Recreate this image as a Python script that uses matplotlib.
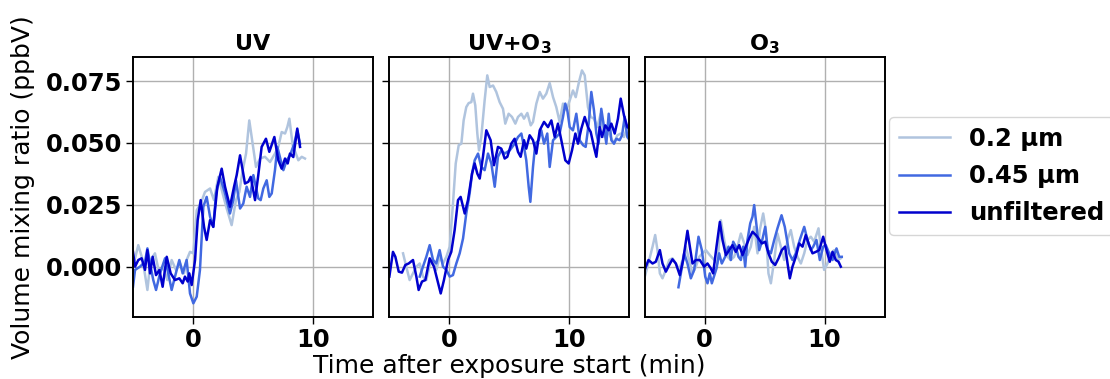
import matplotlib
matplotlib.use("Agg")
import matplotlib.pyplot as plt

# ---------------------------------------------------------------- data
panel_titles = ["UV", "UV+O$_3$", "O$_3$"]
series_labels = ["0.2 µm", "0.45 µm", "unfiltered"]
series_colors = ["lightsteelblue", "royalblue", "mediumblue"]
x_ticks = [0, 10]
y_ticks = [0.0, 0.025, 0.05, 0.075]

# UV exposure
uv_t_02 = [-5.0, -4.56, -4.19, -3.8, -3.53, -3.17, -2.81, -2.47, -2.14, -1.78, -1.42, -1.08, -0.75,
           -0.53, -0.25, 0.03, 0.31, 0.64, 1.0, 1.42, 1.75, 2.11, 2.47, 2.81, 3.22, 3.58, 3.86, 4.14,
           4.42, 4.69, 4.97, 5.25, 5.58, 6.0, 6.42, 6.83, 7.11, 7.39, 7.67, 7.86, 8.03, 8.31, 8.78,
           9.06, 9.33]
uv_v_02 = [0.0, 0.0087, 0.0027, -0.0094, 0.0027, 0.0054, -0.0027, 0.0, -0.0054, 0.0027, -0.0013,
           0.0013, -0.0027, 0.0027, 0.0060, 0.0054, 0.0228, 0.0255, 0.0302, 0.0316, 0.0269, 0.0363,
           0.0296, 0.0235, 0.0168, 0.0269, 0.0302, 0.0390, 0.0457, 0.0591, 0.0497, 0.0403, 0.0437,
           0.0444, 0.0423, 0.0457, 0.0484, 0.0544, 0.0538, 0.0564, 0.0598, 0.0491, 0.0430, 0.0444,
           0.0437]
uv_t_045 = [-5.0, -4.83, -4.42, -4.0, -3.8, -3.53, -3.31, -3.08, -2.75, -2.33, -2.06, -1.78, -1.5,
            -1.14, -0.86, -0.53, -0.25, 0.03, 0.31, 0.58, 0.86, 1.14, 1.42, 1.69, 1.92, 2.25, 2.67,
            3.08, 3.36, 3.58, 3.92, 4.19, 4.47, 4.75, 5.03, 5.44, 5.64, 5.86, 6.14, 6.36, 6.56, 6.83,
            7.03, 7.31, 7.53, 7.81, 8.08, 8.44, 8.69, 8.92]
uv_v_045 = [-0.0081, -0.0013, 0.0, 0.0020, 0.0074, 0.0, -0.0054, -0.0094, -0.0027, 0.0034, -0.0027,
            -0.0094, -0.0040, 0.0027, -0.0027, 0.0027, -0.0108, -0.0148, -0.0121, -0.0013, 0.0242,
            0.0282, 0.0202, 0.0161, 0.0296, 0.0363, 0.0296, 0.0215, 0.0269, 0.0349, 0.0235, 0.0255,
            0.0323, 0.0282, 0.0370, 0.0276, 0.0269, 0.0316, 0.0349, 0.0282, 0.0296, 0.0390, 0.0484,
            0.0430, 0.0390, 0.0430, 0.0450, 0.0497, 0.0551, 0.0497]
uv_t_unf = [-5.0, -4.83, -4.56, -4.28, -4.0, -3.8, -3.58, -3.36, -3.08, -2.8, -2.53, -2.19, -1.86,
            -1.5, -1.14, -0.86, -0.67, -0.44, -0.31, -0.11, 0.17, 0.39, 0.64, 0.92, 1.14, 1.42, 1.69,
            2.03, 2.39, 2.67, 3.08, 3.42, 3.64, 3.92, 4.14, 4.33, 4.61, 4.81, 5.17, 5.44, 5.72, 6.08,
            6.36, 6.78, 7.11, 7.39, 7.67, 7.89, 8.08, 8.36, 8.69, 8.92]
uv_v_unf = [0.0060, 0.0, 0.0027, 0.0034, -0.0013, 0.0067, -0.0027, 0.0040, -0.0034, -0.0013, -0.0081,
            0.0040, -0.0027, -0.0054, -0.0047, -0.0067, -0.0040, -0.0060, -0.0027, -0.0074, 0.0027,
            0.0188, 0.0269, 0.0161, 0.0108, 0.0188, 0.0161, 0.0323, 0.0396, 0.0323, 0.0242, 0.0323,
            0.0370, 0.0450, 0.0390, 0.0336, 0.0343, 0.0363, 0.0269, 0.0370, 0.0484, 0.0517, 0.0464,
            0.0524, 0.0430, 0.0396, 0.0437, 0.0417, 0.0457, 0.0443, 0.0558, 0.0484]

# UV + O3 exposure
uvo3_t_02 = [-3.83, -3.56, -3.28, -3.0, -2.72, -2.44, -2.17, -1.89, -1.61, -1.33, -1.06, -0.78, -0.5,
             -0.22, 0.06, 0.33, 0.56, 0.81, 1.03, 1.22, 1.44, 1.64, 1.86, 2.0, 2.19, 2.36, 2.5, 2.69,
             2.97, 3.19, 3.39, 3.67, 3.94, 4.22, 4.5, 4.69, 4.97, 5.25, 5.53, 5.75, 6.03, 6.25, 6.53,
             6.81, 7.0, 7.28, 7.56, 7.83, 8.11, 8.39, 8.67, 8.94, 9.22, 9.5, 9.78, 10.06, 10.33,
             10.56, 10.83, 11.08, 11.31, 11.58, 11.81, 12.08, 12.36, 12.64, 12.92, 13.19, 13.47,
             13.75, 14.03, 14.31, 14.58, 14.86, 15.06]
uvo3_v_02 = [0.0054, 0.0, -0.0054, -0.0027, 0.0, 0.0013, -0.0040, -0.0054, 0.0007, 0.0027, -0.0013,
             0.0040, 0.0013, 0.0040, 0.0081, 0.0255, 0.0417, 0.0491, 0.0497, 0.0591, 0.0645, 0.0661,
             0.0665, 0.0699, 0.0652, 0.0538, 0.0470, 0.0524, 0.0672, 0.0773, 0.0726, 0.0732, 0.0706,
             0.0665, 0.0638, 0.0578, 0.0618, 0.0605, 0.0578, 0.0605, 0.0618, 0.0598, 0.0621, 0.0571,
             0.0585, 0.0659, 0.0706, 0.0679, 0.0699, 0.0742, 0.0685, 0.0645, 0.0585, 0.0659, 0.0632,
             0.0672, 0.0712, 0.0685, 0.0746, 0.0793, 0.0773, 0.0645, 0.0605, 0.0598, 0.0564, 0.0618,
             0.0524, 0.0551, 0.0524, 0.0497, 0.0531, 0.0538, 0.0524, 0.0564, 0.0578]
uvo3_t_045 = [-2.44, -2.17, -1.89, -1.61, -1.33, -1.06, -0.78, -0.5, -0.22, 0.06, 0.33, 0.61, 0.89,
              1.17, 1.44, 1.72, 1.92, 2.14, 2.42, 2.69, 2.97, 3.25, 3.53, 3.81, 4.08, 4.36, 4.64,
              5.06, 5.47, 5.75, 6.03, 6.25, 6.44, 6.64, 6.78, 7.0, 7.19, 7.47, 7.69, 7.92, 8.19,
              8.39, 8.67, 8.94, 9.22, 9.5, 9.69, 9.86, 10.06, 10.33, 10.61, 10.89, 11.17, 11.39,
              11.64, 11.86, 12.08, 12.28, 12.47, 12.69, 12.92, 13.11, 13.31, 13.53, 13.75, 13.94,
              14.22, 14.42, 14.64, 14.86, 15.06]
uvo3_v_045 = [-0.0040, 0.0, 0.0040, 0.0087, 0.0027, 0.0013, 0.0067, 0.0, -0.0013, -0.0040, -0.0034,
              0.0013, 0.0054, 0.0114, 0.0215, 0.0296, 0.0376, 0.0430, 0.0457, 0.0403, 0.0390, 0.0457,
              0.0417, 0.0323, 0.0444, 0.0470, 0.0457, 0.0470, 0.0497, 0.0524, 0.0538, 0.0484, 0.0430,
              0.0323, 0.0262, 0.0403, 0.0497, 0.0511, 0.0551, 0.0497, 0.0538, 0.0403, 0.0511, 0.0524,
              0.0538, 0.0605, 0.0659, 0.0632, 0.0564, 0.0551, 0.0618, 0.0511, 0.0491, 0.0484, 0.0578,
              0.0706, 0.0632, 0.0538, 0.0497, 0.0638, 0.0564, 0.0497, 0.0618, 0.0511, 0.0497, 0.0517,
              0.0511, 0.0531, 0.0605, 0.0524, 0.0511]
uvo3_t_unf = [-4.97, -4.67, -4.47, -4.19, -3.92, -3.64, -3.36, -3.0, -2.72, -2.53, -2.25, -1.97, -1.61,
              -1.25, -0.97, -0.69, -0.42, -0.08, 0.19, 0.47, 0.75, 0.97, 1.31, 1.58, 1.92, 2.14, 2.36,
              2.56, 2.83, 3.11, 3.47, 3.75, 4.08, 4.36, 4.64, 4.86, 5.19, 5.47, 5.75, 5.97, 6.25, 6.44,
              6.72, 7.0, 7.28, 7.56, 7.92, 8.25, 8.53, 8.81, 9.08, 9.36, 9.69, 9.97, 10.25, 10.53,
              10.75, 11.03, 11.31, 11.58, 11.81, 12.08, 12.28, 12.56, 12.75, 13.03, 13.31, 13.53,
              13.81, 14.08, 14.31, 14.58, 14.86, 15.06]
uvo3_v_unf = [-0.0040, 0.0060, 0.0040, -0.0020, -0.0024, 0.0007, 0.0013, 0.0027, -0.0040, -0.0094,
              -0.0060, -0.0054, 0.0034, 0.0, -0.0054, -0.0108, -0.0054, 0.0027, 0.0060, 0.0148,
              0.0269, 0.0282, 0.0215, 0.0269, 0.0376, 0.0417, 0.0376, 0.0356, 0.0444, 0.0551, 0.0511,
              0.0410, 0.0484, 0.0477, 0.0437, 0.0444, 0.0497, 0.0517, 0.0464, 0.0444, 0.0511, 0.0477,
              0.0531, 0.0511, 0.0457, 0.0551, 0.0585, 0.0564, 0.0591, 0.0524, 0.0578, 0.0511, 0.0430,
              0.0417, 0.0470, 0.0538, 0.0497, 0.0558, 0.0605, 0.0564, 0.0544, 0.0484, 0.0444, 0.0564,
              0.0524, 0.0571, 0.0551, 0.0578, 0.0538, 0.0598, 0.0679, 0.0612, 0.0564, 0.0558]

# O3 exposure
o3_t_02 = [-4.94, -4.61, -4.33, -4.11, -3.92, -3.72, -3.5, -3.22, -2.94, -2.67, -2.39, -2.11, -1.83,
           -1.56, -1.28, -1.0, -0.72, -0.44, -0.17, 0.11, 0.44, 0.81, 1.08, 1.36, 1.64, 1.92, 2.19,
           2.47, 2.75, 3.03, 3.31, 3.58, 3.86, 4.14, 4.42, 4.61, 4.89, 5.11, 5.33, 5.53, 5.81, 6.08,
           6.36, 6.64, 6.92, 7.19, 7.47, 7.75, 8.03, 8.31, 8.58, 8.86, 9.14, 9.5, 9.69, 9.97, 10.25,
           10.53, 10.81, 11.08, 11.36]
o3_v_02 = [-0.0034, 0.0027, 0.0081, 0.0128, 0.0067, -0.0027, -0.0047, -0.0013, 0.0027, 0.0034, 0.0013,
           -0.0013, 0.0027, 0.0081, 0.0027, -0.0027, 0.0, 0.0040, 0.0054, 0.0067, 0.0047, 0.0027,
           0.0013, 0.0188, 0.0108, 0.0040, 0.0027, 0.0040, 0.0081, 0.0134, 0.0094, 0.0047, 0.0081,
           0.0161, 0.0054, 0.0148, 0.0215, 0.0148, -0.0027, -0.0067, 0.0027, 0.0134, 0.0081, 0.0027,
           0.0108, 0.0148, 0.0081, 0.0040, 0.0013, 0.0054, 0.0108, 0.0121, 0.0101, 0.0155, 0.0081,
           -0.0013, 0.0013, 0.0054, 0.0067, 0.0027, 0.0034]
o3_t_045 = [-2.17, -1.97, -1.69, -1.42, -1.14, -0.86, -0.5, -0.22, 0.06, 0.25, 0.44, 0.61, 1.0, 1.22,
            1.44, 1.72, 2.0, 2.19, 2.39, 2.61, 2.83, 3.03, 3.22, 3.39, 3.58, 3.81, 4.0, 4.14, 4.33,
            4.56, 4.78, 5.06, 5.28, 5.53, 5.81, 6.08, 6.42, 6.69, 7.06, 7.33, 7.61, 7.94, 8.31, 8.58,
            8.86, 9.06, 9.33, 9.61, 9.89, 10.11, 10.39, 10.67, 11.0, 11.22, 11.44]
o3_v_045 = [-0.0083, -0.0027, 0.0054, 0.0013, -0.0047, -0.0013, 0.0121, 0.0067, -0.0040, -0.0067,
            -0.0027, -0.0067, -0.0007, 0.0054, 0.0013, 0.0040, 0.0081, 0.0027, 0.0101, 0.0081, 0.0040,
            0.0027, 0.0081, 0.0, 0.0108, 0.0175, 0.0202, 0.0249, 0.0168, 0.0067, 0.0101, 0.0161,
            0.0067, 0.0054, 0.0108, 0.0155, 0.0208, 0.0161, 0.0054, 0.0027, 0.0054, 0.0108, 0.0161,
            0.0108, 0.0067, 0.0081, 0.0108, 0.0027, 0.0081, 0.0087, 0.0054, 0.0027, 0.0074, 0.0040,
            0.0040]
o3_t_unf = [-4.94, -4.67, -4.33, -4.06, -3.72, -3.5, -3.22, -2.94, -2.67, -2.39, -2.06, -1.78, -1.42,
            -1.22, -1.0, -0.72, -0.39, -0.03, 0.25, 0.53, 0.72, 1.0, 1.28, 1.5, 1.78, 2.06, 2.33,
            2.61, 2.89, 3.17, 3.44, 3.72, 4.0, 4.28, 4.5, 4.78, 5.06, 5.33, 5.61, 5.89, 6.17, 6.44,
            6.72, 6.92, 7.11, 7.33, 7.61, 7.89, 8.17, 8.44, 8.72, 9.0, 9.28, 9.56, 9.89, 10.17,
            10.44, 10.67, 10.94, 11.17, 11.36]
o3_v_unf = [-0.0007, 0.0027, 0.0013, 0.0020, 0.0067, 0.0013, -0.0020, 0.0007, 0.0030, 0.0013,
            -0.0034, 0.0027, 0.0145, 0.0081, 0.0013, 0.0027, 0.0027, 0.0, 0.0013, -0.0007, -0.0027,
            0.0081, 0.0181, 0.0108, 0.0047, 0.0067, 0.0087, 0.0060, 0.0087, 0.0047, 0.0081, 0.0114,
            0.0141, 0.0128, 0.0114, 0.0094, 0.0101, 0.0054, 0.0020, 0.0007, 0.0034, 0.0067, 0.0081,
            0.0013, -0.0047, 0.0, 0.0040, 0.0094, 0.0081, 0.0128, 0.0087, 0.0054, 0.0060, 0.0067,
            0.0121, 0.0067, 0.0020, 0.0060, 0.0027, 0.0020, 0.0]

panels = [
    [(uv_t_02, uv_v_02), (uv_t_045, uv_v_045), (uv_t_unf, uv_v_unf)],
    [(uvo3_t_02, uvo3_v_02), (uvo3_t_045, uvo3_v_045), (uvo3_t_unf, uvo3_v_unf)],
    [(o3_t_02, o3_v_02), (o3_t_045, o3_v_045), (o3_t_unf, o3_v_unf)],
]

# ---------------------------------------------------------------- figure
plt.rcParams["mathtext.default"] = "bf"

W, H = 1110, 379
fig = plt.figure(figsize=(W / 100, H / 100), dpi=100)

ax_lefts = [133, 389, 644.5]
ax_w, ax_top, ax_bot = 240, 57.3, 316.7

axes = []
for i, (series, title) in enumerate(zip(panels, panel_titles)):
    ax = fig.add_axes([ax_lefts[i] / W, 1 - ax_bot / H, ax_w / W, (ax_bot - ax_top) / H])
    axes.append(ax)
    for (t, v), lab, col in zip(series, series_labels, series_colors):
        ax.plot(t, v, color=col, lw=1.8, label=lab)
    ax.set_xlim(-5, 15)
    ax.set_ylim(-0.0202, 0.0846)
    ax.set_xticks(x_ticks)
    ax.set_yticks(y_ticks)
    ax.grid(True, color="#b0b0b0", lw=1.0)
    ax.set_axisbelow(True)
    for sp in ax.spines.values():
        sp.set_linewidth(1.4)
        sp.set_color("black")
    ax.tick_params(labelsize=17.5, width=1.0, length=5, pad=3)
    for lbl in ax.get_xticklabels():
        lbl.set_fontweight("bold")
    if i == 0:
        ax.set_yticklabels(["0.000", "0.025", "0.050", "0.075"], fontweight="bold")
    else:
        ax.set_yticklabels([])
    ax.set_title(title, fontsize=16, fontweight="bold", pad=5)

fig.text(23 / W, 1 - 187 / H, "Volume mixing ratio (ppbV)", rotation=90,
         ha="center", va="center", fontsize=18)
fig.text(509 / W, 1 - 366 / H, "Time after exposure start (min)",
         ha="center", va="center", fontsize=18)

handles, labels = axes[0].get_legend_handles_labels()
fig.legend(handles, labels, loc="upper left", bbox_to_anchor=(889 / W, 1 - 117 / H),
           prop={"weight": "bold", "size": 17.5}, handlelength=2.1, borderaxespad=0.0,
           framealpha=0.8, labelspacing=0.55)

fig.savefig("out.png", dpi=100)
